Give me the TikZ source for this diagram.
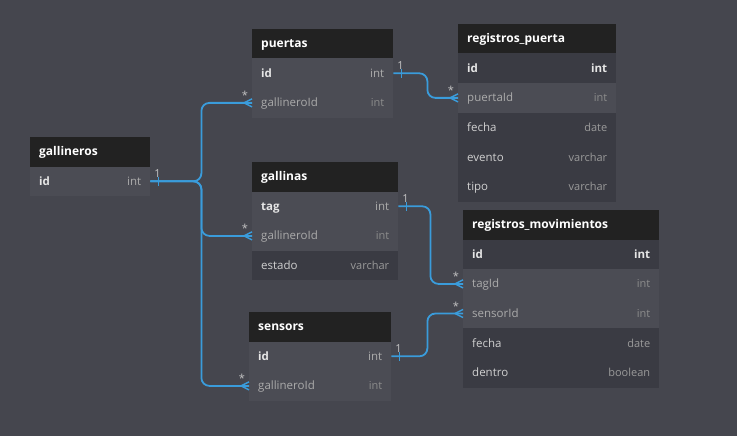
\documentclass[tikz,border=0pt]{standalone}
\usepackage{fontspec}
\setmainfont{Open Sans}
\definecolor{bgc}{HTML}{45464E}
\definecolor{hdrc}{HTML}{222222}
\definecolor{rowlt}{HTML}{4B4C54}
\definecolor{rowdk}{HTML}{3A3B43}
\definecolor{linec}{HTML}{3A9CDB}
\definecolor{namelt}{HTML}{ABABAB}
\definecolor{typelt}{HTML}{8C8C8C}
\definecolor{namedk}{HTML}{D0D0D0}
\definecolor{typedk}{HTML}{9A9A9A}
\definecolor{pkname}{HTML}{E6E6E6}
\definecolor{cardc}{HTML}{C4C4C4}
\newcommand\thead[5]{%
  \node[hdrbox, minimum width=#4] (#1) at (#2,#3) {};
  \node[hdrtext] (#1-title) at ([xshift=9,yshift=-4]#1.west) {#5};}
\newcommand\trow[9]{%
  \node[rowbox, minimum width=#4, fill=#5] (#1) at (#2,#3) {};
  \node[#6, anchor=base west] (#1-name) at ([xshift=9,yshift=-4]#1.west) {#8};
  \node[#7, anchor=base east] (#1-type) at ([xshift=-9,yshift=-4]#1.east) {#9};}
\newcommand\onemark[1]{%
  \draw[linec, line width=1.5pt] ([xshift=8,yshift=4.5]#1.east) -- ([xshift=8,yshift=-4.5]#1.east);
  \node[cardtext, anchor=base] at ([xshift=7,yshift=4]#1.east) {1};}
\newcommand\manymark[1]{%
  \draw[linec, line width=1.5pt] ([xshift=-8]#1.west) -- ([yshift=4]#1.west)
    ([xshift=-8]#1.west) -- ([yshift=-4]#1.west);
  \node[cardtext, anchor=base] at ([xshift=-7,yshift=3]#1.west) {*};}
\begin{document}
\begin{tikzpicture}[x=1pt,y=-1pt,
  hdrbox/.style={anchor=north west, inner sep=0pt, minimum height=29.3pt, fill=hdrc},
  rowbox/.style={anchor=north west, inner sep=0pt, minimum height=29.6pt},
  hdrtext/.style={anchor=base west, inner sep=0pt, text=white, font=\fontsize{12}{14}\selectfont\bfseries},
  pkn/.style={inner sep=0pt, text=pkname, font=\fontsize{11.5}{14}\selectfont\bfseries},
  pkt/.style={inner sep=0pt, text=namelt, font=\fontsize{11.5}{14}\selectfont},
  pktb/.style={inner sep=0pt, text=pkname, font=\fontsize{11.5}{14}\selectfont\bfseries},
  fnl/.style={inner sep=0pt, text=namelt, font=\fontsize{11.5}{14}\selectfont},
  ftl/.style={inner sep=0pt, text=typelt, font=\fontsize{11}{14}\selectfont},
  fnd/.style={inner sep=0pt, text=namedk, font=\fontsize{11.5}{14}\selectfont},
  ftd/.style={inner sep=0pt, text=typedk, font=\fontsize{11}{14}\selectfont},
  cardtext/.style={inner sep=0pt, text=cardc, font=\fontsize{11}{13}\selectfont},
  conn/.style={draw=linec, line width=1.8pt, rounded corners=8pt}]
\fill[bgc] (0,0) rectangle (737,436);
\useasboundingbox (0,0) rectangle (737,436);
% gallineros
\thead{gallineros}{30}{137}{120}{gallineros}
\trow{gallineros-id}{30}{166.3}{120}{rowlt}{pkn}{pkt}{id}{int}
% puertas
\thead{puertas}{252}{29}{141}{puertas}
\trow{puertas-id}{252}{58.3}{141}{rowlt}{pkn}{pkt}{id}{int}
\trow{puertas-gid}{252}{87.9}{141}{rowlt}{fnl}{ftl}{gallineroId}{int}
% gallinas
\thead{gallinas}{252}{162}{146}{gallinas}
\trow{gallinas-tag}{252}{191.3}{146}{rowlt}{pkn}{pkt}{tag}{int}
\trow{gallinas-gid}{252}{220.9}{146}{rowlt}{fnl}{ftl}{gallineroId}{int}
\trow{gallinas-estado}{252}{250.5}{146}{rowdk}{fnd}{ftd}{estado}{varchar}
% registros_puerta
\thead{rp}{458}{24}{158}{registros\_puerta}
\trow{rp-id}{458}{53.3}{158}{rowdk}{pkn}{pktb}{id}{int}
\trow{rp-puertaId}{458}{82.9}{158}{rowlt}{fnl}{ftl}{puertaId}{int}
\trow{rp-fecha}{458}{112.5}{158}{rowdk}{fnd}{ftd}{fecha}{date}
\trow{rp-evento}{458}{142.1}{158}{rowdk}{fnd}{ftd}{evento}{varchar}
\trow{rp-tipo}{458}{171.7}{158}{rowdk}{fnd}{ftd}{tipo}{varchar}
% registros_movimientos
\thead{rm}{463}{210}{196}{registros\_movimientos}
\trow{rm-id}{463}{239.3}{196}{rowdk}{pkn}{pktb}{id}{int}
\trow{rm-tagId}{463}{268.9}{196}{rowlt}{fnl}{ftl}{tagId}{int}
\trow{rm-sensorId}{463}{298.5}{196}{rowlt}{fnl}{ftl}{sensorId}{int}
\trow{rm-fecha}{463}{328.1}{196}{rowdk}{fnd}{ftd}{fecha}{date}
\trow{rm-dentro}{463}{357.7}{196}{rowdk}{fnd}{ftd}{dentro}{boolean}
% sensors
\thead{sensors}{249}{312}{142}{sensors}
\trow{sensors-id}{249}{341.3}{142}{rowlt}{pkn}{pkt}{id}{int}
\trow{sensors-gid}{249}{370.9}{142}{rowlt}{fnl}{ftl}{gallineroId}{int}
% connectors
\draw[conn] (gallineros-id.east) -- ++(51,0) |- (puertas-gid.west);
\draw[conn] (gallineros-id.east) -- ++(51,0) |- (gallinas-gid.west);
\draw[conn] (gallineros-id.east) -- ++(51,0) |- (sensors-gid.west);
\draw[conn] (puertas-id.east) -- ++(34,0) |- (rp-puertaId.west);
\draw[conn] (gallinas-tag.east) -- ++(32,0) |- (rm-tagId.west);
\draw[conn] (sensors-id.east) -- ++(36,0) |- (rm-sensorId.west);
\onemark{gallineros-id}
\onemark{puertas-id}
\onemark{gallinas-tag}
\onemark{sensors-id}
\manymark{puertas-gid}
\manymark{gallinas-gid}
\manymark{sensors-gid}
\manymark{rp-puertaId}
\manymark{rm-tagId}
\manymark{rm-sensorId}
\end{tikzpicture}
\end{document}
